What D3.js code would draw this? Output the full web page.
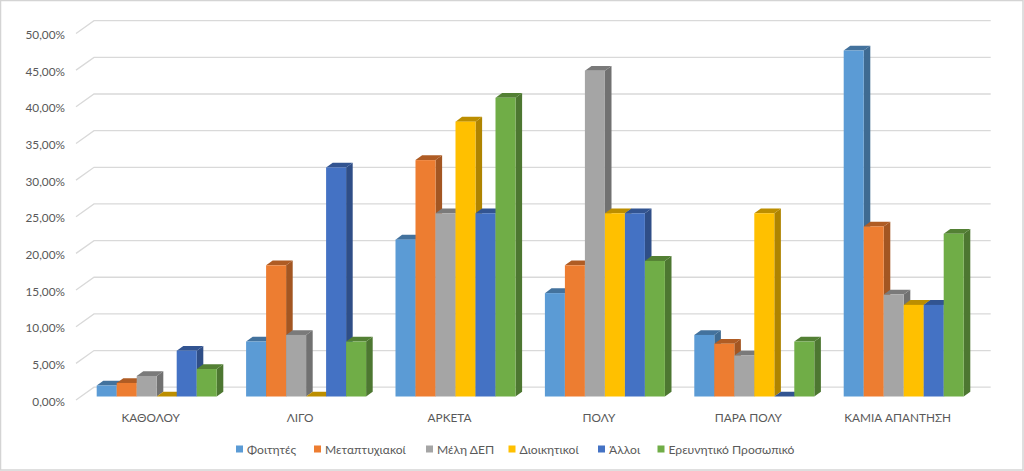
<!DOCTYPE html>
<html><head><meta charset="utf-8">
<style>html,body{margin:0;padding:0;background:#fff}svg{display:block}text{font-family:Lato,"Open Sans","Noto Sans",sans-serif;fill:#595959}</style>
<script src="https://cdn.jsdelivr.net/npm/d3@7/dist/d3.min.js"></script>
</head><body><svg id="c" width="1024" height="471"></svg>
<script>
const categories=["ΚΑΘΟΛΟΥ","ΛΙΓΟ","ΑΡΚΕΤΑ","ΠΟΛΥ","ΠΑΡΑ ΠΟΛΥ","ΚΑΜΙΑ ΑΠΑΝΤΗΣΗ"];
const seriesNames=["Φοιτητές","Μεταπτυχιακοί","Μέλη ΔΕΠ","Διοικητικοί","Άλλοι","Ερευνητικό Προσωπικό"];
const colors=["#5B9BD5","#ED7D31","#A5A5A5","#FFC000","#4472C4","#70AD47"];
const foitites=[1.5,7.5,21.4,14.1,8.4,47.2];
const metaptyxiakoi=[1.85,17.9,32.25,17.9,7.2,23.2];
const meli=[2.8,8.4,25,44.45,5.6,13.9];
const dioikitikoi=[0,0,37.5,25,25,12.5];
const alloi=[6.25,31.25,25,25,0,12.5];
const erevnitiko=[3.75,7.5,40.75,18.5,7.5,22.2];
const seriesValues=[foitites,metaptyxiakoi,meli,dioikitikoi,alloi,erevnitiko];
const ticks=[0,5,10,15,20,25,30,35,40,45,50];
const legendX=[236,314,426,508.5,598,657.5];

const svg=d3.select("#c");
svg.append("rect").attr("x",0.5).attr("y",0.5).attr("width",1022.5).attr("height",469.5).attr("fill","#fff").attr("stroke","#d4d4d4").attr("stroke-width",1.5);
const yBack=d3.scaleLinear().domain([0,50]).range([387.2,20.7]);
const yFront=d3.scaleLinear().domain([0,50]).range([396.5,30]);
const x0=d3.scaleBand().domain(categories).range([82,978.4]);
const x1=d3.scaleBand().domain(seriesNames).range([0,120]);
const off=(x0.bandwidth()-120)/2;
const dx=6.6,dy=4.8;

const grid=svg.append("g").attr("fill","none").attr("stroke","#d9d9d9").attr("stroke-width",1.3);
ticks.forEach(t=>{
  const y=yBack(t);
  grid.append("path").attr("d",d3.line()([[76,y+12.8],[94,y],[990.7,y]]));
  svg.append("text").attr("x",65).attr("y",y+14.3).attr("dy","0.35em").attr("text-anchor","end").attr("font-size",11.8)
    .text(d3.format(".2f")(t).replace(".",",")+"%");
});
categories.forEach((c,ci)=>{
  const gx=x0(c)+off;
  seriesNames.forEach((s,si)=>{
    const v=seriesValues[si][ci],col=d3.rgb(colors[si]);
    const l=gx+x1(s),r=l+x1.bandwidth(),t=yFront(v),b=yFront(0);
    const g=svg.append("g");
    g.append("path").attr("d",d3.line()([[r,t],[r+dx,t-dy],[r+dx,b-dy],[r,b]])).attr("fill",col.darker(1.05));
    g.append("path").attr("d",d3.line()([[l,t],[l+dx,t-dy],[r+dx,t-dy],[r,t]])).attr("fill",col.darker(0.85));
    g.append("rect").attr("x",l).attr("y",t).attr("width",x1.bandwidth()).attr("height",b-t).attr("fill",col);
  });
  svg.append("text").attr("x",x0(c)+x0.bandwidth()/2-6).attr("y",417.5).attr("dy","0.35em").attr("text-anchor","middle").attr("font-size",11.8).text(c);
});
seriesNames.forEach((s,i)=>{
  svg.append("rect").attr("x",legendX[i]).attr("y",445.5).attr("width",7).attr("height",7).attr("fill",colors[i]);
  svg.append("text").attr("x",legendX[i]+11).attr("y",449.5).attr("dy","0.35em").attr("font-size",12.1).text(s);
});
</script></body></html>
